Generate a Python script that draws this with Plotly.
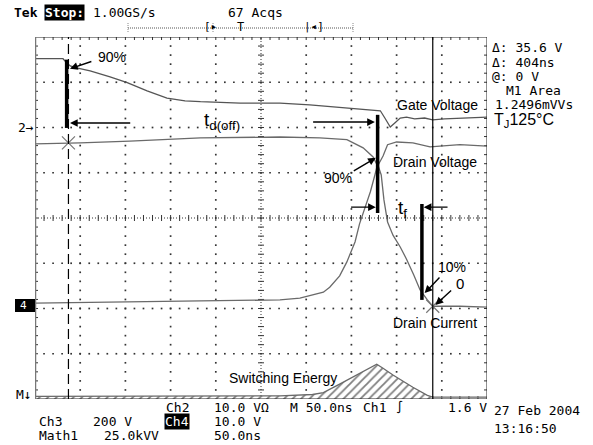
import plotly.graph_objects as go

# ---- screen geometry (page pixels) : 10 x 8 division graticule ----
FIG_W, FIG_H = 593, 445
FRAME_L, FRAME_R, FRAME_T, FRAME_B = 35, 487, 37, 399
NS_PER_DIV = 50
T_SPAN = 10 * NS_PER_DIV          # 500 ns across the screen
Y_HALF = 4                        # divisions above / below centre

# ---- waveforms: time in ns from left edge, amplitude in screen divisions ----
# Ch2 : gate voltage
gate_t = [0, 31, 34, 39, 46, 61, 83, 102, 124, 146, 166, 183, 227, 271, 304, 326,
          348, 371, 382, 387, 393, 398, 404, 411, 420, 431, 440, 453, 470, 487, 500]
gate_div = [3.52, 3.52, 3.45, 3.36, 3.32, 3.25, 3.12, 2.99, 2.81, 2.65, 2.59, 2.57,
            2.54, 2.54, 2.50, 2.46, 2.43, 2.39, 2.37, 2.21, 2.01, 2.10, 2.21, 2.23,
            2.19, 2.21, 2.17, 2.19, 2.21, 2.23, 2.23]

# Ch3 : drain voltage
vd_t = [0, 50, 105, 183, 271, 315, 345, 363, 374, 379, 385, 390, 400, 418, 437,
        453, 470, 500]
vd_div = [1.64, 1.66, 1.70, 1.77, 1.79, 1.77, 1.73, 1.55, 1.35, 1.15, 1.37, 1.62,
          1.68, 1.66, 1.57, 1.59, 1.62, 1.59]

# Ch4 : drain current
id_t = [0, 72, 183, 271, 293, 307, 319, 326, 337, 345, 354, 359, 365, 371, 376,
        379, 383, 386, 390, 396, 404, 411, 419, 426, 434, 440, 453, 470, 500]
id_div = [-1.88, -1.86, -1.84, -1.81, -1.77, -1.70, -1.64, -1.53, -1.28, -0.97,
          -0.53, -0.13, 0.24, 0.58, 0.95, 1.19, 0.95, 0.40, -0.09, -0.38, -0.64,
          -0.91, -1.26, -1.59, -1.81, -1.95, -1.95, -1.95, -1.97]

# Math1 : switching energy (V x I product)
e_t = [0, 127, 271, 307, 319, 337, 359, 378, 385, 396, 418, 434, 440, 470, 500]
e_div = [-3.94, -3.94, -3.93, -3.90, -3.86, -3.67, -3.43, -3.23, -3.32, -3.47,
         -3.74, -3.92, -3.96, -3.96, -3.96]

# ---- cursor / timing markers (ns) ----
CURSOR_A = 37       # dashed cursor
CURSOR_B = 440      # solid cursor (integration end)
T_GATE_90 = 35      # gate 90 %
T_DRAIN_90 = 379    # drain 90 %
T_I10 = 428         # current 10 %

TRACE_COL = "#6a6a6a"
SCOPE_FONT = "DejaVu Sans Mono"
LABEL_FONT = "Liberation Sans"


def px_x(x):
    return (x - FRAME_L) / (FRAME_R - FRAME_L)


def px_y(y):
    return (FRAME_B - y) / (FRAME_B - FRAME_T)


fig = go.Figure()

# ---- graticule: dotted division lines ----
gx, gy = [], []
for i in range(1, 10):
    if i == 5:
        continue
    for k in range(1, 40):
        gx.append(i * NS_PER_DIV)
        gy.append(-Y_HALF + k * 0.2)
for j in range(-3, 4):
    if j == 0:
        continue
    for k in range(1, 50):
        gx.append(k * NS_PER_DIV / 5)
        gy.append(j)
fig.add_trace(go.Scatter(x=gx, y=gy, mode="markers", hoverinfo="skip",
                         marker=dict(symbol="square", size=1.7, color="#333",
                                     line=dict(width=0))))

# centre cross lines (fine dots) with minor ticks
fig.add_trace(go.Scatter(x=[0, T_SPAN], y=[0, 0], mode="lines", hoverinfo="skip",
                         line=dict(color="#333", width=1, dash="1px,2px")))
fig.add_trace(go.Scatter(x=[T_SPAN / 2, T_SPAN / 2], y=[-Y_HALF, Y_HALF], mode="lines",
                         hoverinfo="skip",
                         line=dict(color="#333", width=1, dash="1px,2px")))

tx, ty = [], []
ns_per_px = NS_PER_DIV / ((FRAME_R - FRAME_L) / 10)
div_per_px = 1 / ((FRAME_B - FRAME_T) / 8)
for k in range(1, 50):
    x = k * NS_PER_DIV / 5
    tx += [x, x, None]
    ty += [-3 * div_per_px, 3 * div_per_px, None]
    tx += [x, x, None]
    ty += [Y_HALF, Y_HALF - 3 * div_per_px, None]
    tx += [x, x, None]
    ty += [-Y_HALF, -Y_HALF + 3 * div_per_px, None]
for k in range(1, 40):
    y = -Y_HALF + k * 0.2
    tx += [T_SPAN / 2 - 3 * ns_per_px, T_SPAN / 2 + 3 * ns_per_px, None]
    ty += [y, y, None]
    tx += [0, 3 * ns_per_px, None]
    ty += [y, y, None]
    tx += [T_SPAN, T_SPAN - 3 * ns_per_px, None]
    ty += [y, y, None]
fig.add_trace(go.Scatter(x=tx, y=ty, mode="lines", hoverinfo="skip",
                         line=dict(color="#333", width=1)))

# ---- switching energy with hatched area ----
e_fill_t = [t for t in e_t if t <= CURSOR_B]
e_fill_v = e_div[:len(e_fill_t)]
fig.add_trace(go.Scatter(x=e_fill_t, y=[-Y_HALF] * len(e_fill_t), mode="lines",
                         hoverinfo="skip", line=dict(width=0, color="black")))
fig.add_trace(go.Scatter(x=e_fill_t, y=e_fill_v, mode="lines", fill="tonexty",
                         fillcolor="rgba(0,0,0,0)",
                         fillpattern=dict(shape="/", fgcolor="black", bgcolor="white",
                                          size=6, solidity=0.3),
                         hoverinfo="skip", line=dict(width=0)))
fig.add_trace(go.Scatter(x=e_t, y=e_div, mode="lines", hoverinfo="skip",
                         line=dict(color=TRACE_COL, width=1.3)))

# ---- channel traces ----
fig.add_trace(go.Scatter(x=gate_t, y=gate_div, mode="lines", name="Gate Voltage",
                         line=dict(color="#555", width=1.3)))
fig.add_trace(go.Scatter(x=vd_t, y=vd_div, mode="lines", name="Drain Voltage",
                         line=dict(color=TRACE_COL, width=1.3)))
fig.add_trace(go.Scatter(x=id_t, y=id_div, mode="lines", name="Drain Current",
                         line=dict(color=TRACE_COL, width=1.3)))

# cursor crossing marks
fig.add_trace(go.Scatter(x=[CURSOR_A, CURSOR_B], y=[vd_div[0] + 0.02, id_div[25]],
                         mode="markers", hoverinfo="skip",
                         marker=dict(symbol="x-thin-open", size=13, color="#777",
                                     line=dict(color="#777", width=1.2))))

shapes = []
# frame
shapes.append(dict(type="rect", xref="x", yref="y", x0=0, x1=T_SPAN, y0=-Y_HALF,
                   y1=Y_HALF, line=dict(color="#222", width=1)))
shapes.append(dict(type="line", xref="x", yref="y", x0=0, x1=0, y0=-Y_HALF,
                   y1=Y_HALF, line=dict(color="#777", width=2.5)))
# cursors
shapes.append(dict(type="line", xref="x", yref="y", x0=CURSOR_A, x1=CURSOR_A,
                   y0=-Y_HALF, y1=Y_HALF, line=dict(color="black", width=1.2,
                                                     dash="10px,5px")))
shapes.append(dict(type="line", xref="x", yref="y", x0=CURSOR_B, x1=CURSOR_B,
                   y0=-Y_HALF, y1=Y_HALF, line=dict(color="black", width=1.2)))
# thick timing bars
for tb, y0, y1 in [(T_GATE_90, 1.99, 3.50), (T_DRAIN_90, 0.11, 2.28),
                   (T_I10, -1.81, 0.31)]:
    shapes.append(dict(type="line", xref="x", yref="y", x0=tb, x1=tb, y0=y0, y1=y1,
                       line=dict(color="black", width=3.5)))

# trigger position bar above the screen
shapes.append(dict(type="line", xref="paper", yref="paper", x0=px_x(128), x1=px_x(353),
                   y0=px_y(28), y1=px_y(28),
                   line=dict(color="#555", width=1, dash="1px,1px")))
for xp in (128, 213, 353):
    shapes.append(dict(type="line", xref="paper", yref="paper", x0=px_x(xp), x1=px_x(xp),
                       y0=px_y(23), y1=px_y(33),
                       line=dict(color="#888", width=1, dash="1px,1px")))
# Ch4 ground marker box
shapes.append(dict(type="rect", xref="paper", yref="paper", x0=px_x(15), x1=px_x(35),
                   y0=px_y(312), y1=px_y(299), fillcolor="black",
                   line=dict(width=0)))

ann = []


def arrow(x_head, y_head, x_tail, y_tail):
    ann.append(dict(x=x_head, y=y_head, ax=x_tail, ay=y_tail, xref="x", yref="y",
                    axref="x", ayref="y", text="", showarrow=True, arrowhead=2,
                    arrowsize=1.1, arrowwidth=1.4, arrowcolor="black", standoff=0,
                    startstandoff=0))


def label(x, y, text, size=14, **kw):
    d = dict(x=x, y=y, xref="x", yref="y", text=text, showarrow=False,
             font=dict(family=LABEL_FONT, size=size, color="black"))
    d.update(kw)
    ann.append(d)


def scope_text(xp, yp, text, size=13, color="black", **kw):
    d = dict(x=px_x(xp), y=px_y(yp), xref="paper", yref="paper", text=text,
             showarrow=False, xanchor="left", yanchor="middle",
             font=dict(family=SCOPE_FONT, size=size, color=color))
    d.update(kw)
    ann.append(d)


# timing annotations
arrow(38.7, 3.30, 64, 3.47)
label(85, 3.56, "90%")
arrow(38.7, 2.10, 107, 2.10)
label(207, 2.14, "t<sub>d(off)</sub>", size=19)
arrow(376, 2.12, 306, 2.12)
label(335, 0.88, "90%")
arrow(377, 1.33, 351, 1.02)
arrow(377, 0.24, 348, 0.24)
label(407, 0.19, "t<sub>f</sub>", size=19)
arrow(430, 0.24, 458, 0.24)
label(461, -1.08, "10%")
arrow(431, -1.66, 449, -1.28)
label(470, -1.44, "0", size=15)
arrow(443, -1.92, 462, -1.57)

# trace names
label(445, 2.50, "Gate Voltage")
label(442, 1.24, "Drain Voltage")
label(442, -2.32, "Drain Current")
label(274, -3.54, "Switching Energy")

# header line
scope_text(12, 12, "<b>Tek</b>", size=13)
scope_text(44, 12, "<b>Stop:</b>", size=13, color="white", bgcolor="black", borderpad=0)
scope_text(91, 12, "1.00GS/s")
scope_text(226, 12, "67 Acqs")
scope_text(202, 27, "[▸", size=11)
scope_text(235, 27, "T", size=12)
scope_text(302, 27, "|◂]", size=11)

# measurement readout
scope_text(490, 48, "Δ: 35.6 V")
scope_text(490, 62, "Δ: 404ns")
scope_text(490, 76, "@: 0 V")
scope_text(504, 91, "M1 Area")
scope_text(493, 105, "1.2496mVVs")
ann.append(dict(x=px_x(492), y=px_y(121), xref="paper", yref="paper",
                text="T<sub>J</sub>125°C", showarrow=False, xanchor="left",
                yanchor="middle", font=dict(family=LABEL_FONT, size=16, color="black")))

# channel markers on the left
scope_text(16, 128, "2→")
scope_text(18, 305, "4", size=11, color="white")
scope_text(14, 394, "M↓")

# settings footer (three rows)
ROW1, ROW2, ROW3 = 407, 421, 435
scope_text(164, ROW1, "Ch2")
scope_text(212, ROW1, "10.0 VΩ")
scope_text(288, ROW1, "M 50.0ns")
scope_text(361, ROW1, "Ch1")
scope_text(394, ROW1, "∫", size=12)
scope_text(446, ROW1, "1.6 V")
scope_text(37, ROW2, "Ch3")
scope_text(91, ROW2, "200 V")
scope_text(164, ROW2, "Ch4", color="white", bgcolor="black", borderpad=0)
scope_text(212, ROW2, "10.0 V")
scope_text(37, ROW3, "Math1")
scope_text(102, ROW3, "25.0kVV")
scope_text(212, ROW3, "50.0ns")
scope_text(492, 410, "27 Feb 2004")
scope_text(492, 428, "13:16:50")

fig.update_layout(
    width=FIG_W, height=FIG_H,
    margin=dict(l=FRAME_L, r=FIG_W - FRAME_R, t=FRAME_T, b=FIG_H - FRAME_B),
    paper_bgcolor="white", plot_bgcolor="white",
    showlegend=False,
    xaxis=dict(range=[0, T_SPAN], visible=False, fixedrange=True),
    yaxis=dict(range=[-Y_HALF, Y_HALF], visible=False, fixedrange=True),
    shapes=shapes, annotations=ann,
)

fig.write_html("out.html")
